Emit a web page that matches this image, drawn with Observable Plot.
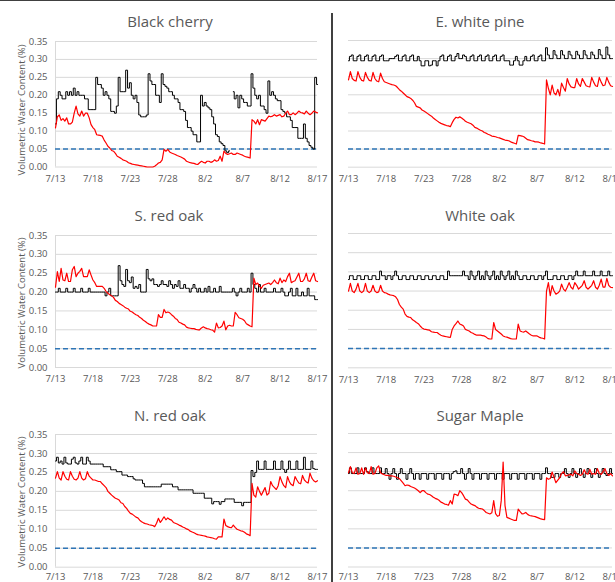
<!DOCTYPE html>
<html><head><meta charset="utf-8">
<script src="https://cdn.jsdelivr.net/npm/d3@7"></script>
<script src="https://cdn.jsdelivr.net/npm/@observablehq/plot@0.6"></script>
<style>
body{margin:0;background:#fff;}
#chart{position:relative;width:615px;height:582px;overflow:hidden;font-family:"Open Sans",sans-serif;background:#fff;}
.title{position:absolute;width:300px;text-align:center;font-size:15px;color:#595959;line-height:16px;white-space:nowrap;}
.ylab{position:absolute;width:200px;text-align:center;font-size:9.5px;color:#595959;line-height:12px;transform:rotate(-90deg);white-space:nowrap;}
.rule{position:absolute;background:#404040;}
</style></head><body><div id="chart"></div>
<script>
// ---- tick labels / categories ----
const xTickValues = [0,5,10,15,20,25,30,35];
const xTickLabels = ["7/13","7/18","7/23","7/28","8/2","8/7","8/12","8/17"];
const yTickValues = [0,0.05,0.10,0.15,0.20,0.25,0.30,0.35];
const thresholdVWC = 0.05;
const stepDays = 0.25; // readings every 6 hours from 7/13
const titles = ["Black cherry","E. white pine","S. red oak","White oak","N. red oak","Sugar Maple"];
const yLabel = "Volumetric Water Content (%)";

// ---- series values (VWC) ----
const cherryBlack = [
0.12,0.19,0.21,0.20, 0.19,0.19,0.21,0.20, 0.21,0.20,0.22,0.20, 0.21,0.20,0.20,0.20, 0.19,0.19,0.16,0.16,
0.16,0.16,0.25,0.23, 0.23,0.22,0.20,0.21, 0.20,0.19,0.155,0.155, 0.15,0.17,0.25,0.21, 0.21,0.21,0.27,0.22,
0.235,0.20,0.19,0.20, 0.18,0.145,0.14,0.14, 0.14,0.145,0.26,0.24, 0.23,0.23,0.20,0.20, 0.18,0.26,0.23,0.225,
0.22,0.21,0.21,0.20, 0.19,0.19,0.18,0.16, 0.16,0.155,0.13,0.11, 0.11,0.10,0.09,0.09, 0.07,0.07,0.20,0.17,
0.18,0.17,0.165,0.16, 0.14,0.12,0.09,0.085, 0.07,0.065,0.06,0.045, 0.04,0.045,NaN,0.21, 0.19,0.20,0.165,0.20,
0.19,0.18,0.18,0.17, 0.17,0.26,0.22,0.20, 0.19,0.20,0.17,0.17, 0.16,0.15,0.24,0.20, 0.21,0.20,0.19,0.185,
0.185,0.16,0.155,0.15, 0.14,0.14,0.13,0.11, 0.11,0.11,0.08,0.08, 0.08,0.12,0.08,0.07, 0.06,0.055,0.05,0.25,
0.23];
const cherryRed = [
0.109,0.14,0.145,0.13, 0.135,0.128,0.137,0.12, 0.12,0.125,0.15,0.17, 0.148,0.142,0.156,0.142, 0.15,0.15,0.137,0.118,
0.11,0.104,0.09,0.089, 0.088,0.086,0.075,0.067, 0.058,0.053,0.046,0.044, 0.038,0.03,0.027,0.024, 0.02,0.018,0.016,0.012,
0.01,0.008,0.007,0.006, 0.005,0.004,0.003,0.002, 0.001,0,0,0, 0,0.002,0.006,0.011, 0.013,0.02,0.049,0.044,
0.049,0.042,0.039,0.037, 0.035,0.032,0.03,0.028, 0.025,0.022,0.016,0.014, 0.012,0.011,0.01,0.008, 0.007,0.012,0.016,0.013,
0.011,0.016,0.016,0.013, 0.015,0.02,0.016,0.018, 0.03,0.016,0.044,0.038, 0.035,0.037,0.039,0.035, 0.035,0.039,0.037,0.035,
0.033,0.03,0.028,0.027, 0.025,0.132,0.128,0.12, 0.132,0.118,0.132,0.13, 0.128,0.135,0.142,0.14, 0.142,0.146,0.142,0.144,
0.146,0.14,0.142,0.15, 0.156,0.146,0.146,0.151, 0.146,0.15,0.156,0.152, 0.151,0.148,0.156,0.15, 0.146,0.15,0.156,0.153,
0.151];
const pineBlack = [
0.294,0.306,0.31,0.294, 0.294,0.306,0.31,0.294, 0.294,0.306,0.31,0.294, 0.294,0.306,0.31,0.294, 0.294,0.306,0.31,0.294,
0.294,0.294,0.30,0.30, 0.30,0.306,0.31,0.294, 0.294,0.306,0.31,0.294, 0.294,0.306,0.31,0.294, 0.294,0.306,0.294,0.28,
0.28,0.294,0.294,0.28, 0.282,0.294,0.294,0.28, 0.294,0.306,0.31,0.294, 0.294,0.306,0.31,0.294, 0.294,0.306,0.314,0.30,
0.30,0.31,0.306,0.294, 0.294,0.306,0.31,0.294, 0.294,0.306,0.31,0.294, 0.294,0.306,0.31,0.294, 0.294,0.306,0.31,0.294,
0.294,0.306,0.31,0.294, 0.294,0.294,0.282,0.282, 0.294,0.306,0.294,0.282, 0.282,0.294,0.306,0.294, 0.294,0.306,0.31,0.294,
0.294,0.306,0.31,0.294, 0.294,0.33,0.31,0.30, 0.30,0.322,0.31,0.30, 0.30,0.322,0.31,0.30, 0.30,0.32,0.31,0.30,
0.30,0.32,0.31,0.30, 0.30,0.322,0.31,0.30, 0.30,0.318,0.31,0.30, 0.30,0.325,0.31,0.30, 0.30,0.332,0.31,0.30,
0.30];
const pineRed = [
0.241,0.264,0.245,0.24, 0.238,0.264,0.248,0.24, 0.238,0.262,0.248,0.24, 0.238,0.262,0.245,0.238, 0.236,0.26,0.245,0.236,
0.234,0.232,0.23,0.228, 0.227,0.225,0.22,0.214, 0.21,0.205,0.2,0.195, 0.193,0.19,0.185,0.178, 0.168,0.166,0.164,0.158,
0.155,0.152,0.148,0.144, 0.141,0.136,0.132,0.128, 0.124,0.121,0.119,0.117, 0.115,0.114,0.112,0.123, 0.132,0.138,0.136,0.139,
0.136,0.132,0.127,0.124, 0.122,0.12,0.116,0.11, 0.108,0.105,0.102,0.1, 0.096,0.094,0.091,0.089, 0.086,0.085,0.084,0.082,
0.081,0.079,0.077,0.075, 0.074,0.073,0.07,0.068, 0.066,0.064,0.088,0.087, 0.086,0.084,0.08,0.076, 0.075,0.073,0.072,0.07,
0.07,0.069,0.067,0.066, 0.064,0.241,0.218,0.2, 0.227,0.205,0.2,0.215, 0.197,0.232,0.22,0.21, 0.245,0.23,0.222,0.22,
0.22,0.245,0.23,0.223, 0.245,0.235,0.225,0.223, 0.222,0.248,0.235,0.225, 0.223,0.248,0.235,0.225, 0.227,0.248,0.235,0.225,
0.223];
const sRedBlack = [
0.2,0.2,0.21,0.2, 0.2,0.2,0.21,0.2, 0.2,0.2,0.21,0.2, 0.2,0.2,0.21,0.2, 0.2,0.2,0.21,0.2,
0.2,0.2,0.2,0.2, 0.2,0.2,0.2,0.19, 0.2,0.21,0.19,0.19, 0.19,0.19,0.27,0.23, 0.22,0.215,0.26,0.23,
0.225,0.24,0.21,0.215, 0.21,0.22,0.2,0.2, 0.2,0.26,0.235,0.23, 0.235,0.22,0.22,0.215, 0.22,0.23,0.22,0.22,
0.215,0.23,0.22,0.21, 0.22,0.215,0.23,0.21, 0.21,0.22,0.21,0.21, 0.2,0.21,0.22,0.21, 0.2,0.21,0.2,0.2,
0.21,0.2,0.215,0.2, 0.2,0.21,0.2,0.2, 0.215,0.2,0.2,0.2, 0.2,0.2,0.2,0.21, 0.2,0.19,0.2,0.21,
0.2,0.2,0.2,0.21, 0.2,0.25,0.22,0.21, 0.2,0.22,0.2,0.2, 0.21,0.2,0.2,0.2, 0.2,0.21,0.2,0.2,
0.2,0.21,0.2,0.19, 0.19,0.2,0.21,0.19, 0.19,0.21,0.19,0.19, 0.2,0.19,0.19,0.21, 0.19,0.19,0.19,0.18,
0.18];
const sRedRed = [
0.213,0.254,0.228,0.263, 0.232,0.23,0.25,0.228, 0.228,0.259,0.268,0.241, 0.25,0.255,0.263,0.241, 0.241,0.241,0.259,0.245,
0.232,0.225,0.215,0.215, 0.215,0.215,0.21,0.202, 0.197,0.193,0.19,0.186, 0.178,0.175,0.17,0.167, 0.164,0.16,0.157,0.155,
0.149,0.147,0.143,0.14, 0.138,0.133,0.13,0.125, 0.122,0.118,0.115,0.113, 0.11,0.11,0.11,0.14, 0.133,0.133,0.154,0.145,
0.147,0.145,0.14,0.136, 0.13,0.127,0.12,0.118, 0.115,0.113,0.107,0.105, 0.104,0.103,0.103,0.101, 0.1,0.1,0.105,0.108,
0.105,0.103,0.102,0.1, 0.099,0.094,0.118,0.105, 0.106,0.11,0.123,0.1, 0.11,0.112,0.11,0.11, 0.146,0.14,0.132,0.13,
0.128,0.124,0.116,0.113, 0.11,0.108,0.237,0.22, 0.224,0.215,0.21,0.218, 0.22,0.222,0.224,0.22, 0.225,0.232,0.225,0.222,
0.237,0.225,0.232,0.228, 0.241,0.25,0.225,0.228, 0.23,0.24,0.25,0.228, 0.228,0.235,0.25,0.23, 0.228,0.24,0.25,0.23,
0.228];
const wOakBlack = [
0.23,0.24,0.24,0.23, 0.23,0.24,0.24,0.23, 0.23,0.24,0.24,0.23, 0.23,0.24,0.24,0.23, 0.23,0.252,0.24,0.24,
0.23,0.24,0.24,0.23, 0.24,0.252,0.24,0.23, 0.23,0.24,0.24,0.23, 0.23,0.24,0.24,0.23, 0.23,0.24,0.24,0.23,
0.23,0.24,0.24,0.23, 0.23,0.24,0.24,0.23, 0.23,0.24,0.24,0.23, 0.23,0.252,0.24,0.24, 0.24,0.24,0.24,0.24,
0.24,0.252,0.24,0.24, 0.23,0.252,0.24,0.23, 0.24,0.252,0.23,0.24, 0.23,0.252,0.24,0.23, 0.24,0.252,0.23,0.24,
0.23,0.252,0.24,0.23, 0.24,0.252,0.23,0.24, 0.23,0.252,0.24,0.23, 0.23,0.24,0.24,0.23, 0.23,0.24,0.24,0.23,
0.23,0.24,0.24,0.23, 0.24,0.252,0.23,0.23, 0.23,0.24,0.24,0.23, 0.23,0.24,0.24,0.23, 0.23,0.24,0.24,0.23,
0.24,0.252,0.24,0.24, 0.24,0.252,0.24,0.24, 0.24,0.24,0.252,0.24, 0.24,0.24,0.252,0.24, 0.24,0.24,0.252,0.24,
0.24];
const wOakRed = [
0.2,0.22,0.2,0.196, 0.205,0.22,0.2,0.196, 0.2,0.22,0.2,0.196, 0.2,0.215,0.2,0.196, 0.198,0.215,0.2,0.196,
0.195,0.192,0.19,0.189, 0.188,0.185,0.178,0.165, 0.158,0.153,0.14,0.134, 0.132,0.131,0.125,0.122, 0.118,0.115,0.109,0.104,
0.101,0.1,0.099,0.098, 0.094,0.093,0.092,0.092, 0.088,0.085,0.083,0.082, 0.081,0.08,0.079,0.1, 0.109,0.115,0.122,0.114,
0.112,0.109,0.1,0.098, 0.096,0.092,0.09,0.087, 0.085,0.085,0.085,0.084, 0.083,0.08,0.076,0.075, 0.075,0.118,0.1,0.096,
0.092,0.088,0.083,0.081, 0.08,0.078,0.076,0.075, 0.075,0.075,0.114,0.096, 0.094,0.093,0.096,0.092, 0.088,0.085,0.083,0.083,
0.083,0.08,0.078,0.077, 0.075,0.2,0.222,0.188, 0.214,0.2,0.192,0.195, 0.2,0.218,0.205,0.2, 0.21,0.222,0.21,0.205,
0.222,0.215,0.205,0.21, 0.215,0.227,0.21,0.205, 0.21,0.215,0.227,0.21, 0.205,0.215,0.231,0.21, 0.21,0.233,0.215,0.21,
0.209];
const nRedBlack = [
0.28,0.29,0.275,0.28, 0.272,0.29,0.275,0.272, 0.272,0.285,0.29,0.275, 0.272,0.28,0.29,0.272, 0.272,0.29,0.28,0.272,
0.272,0.272,0.272,0.272, 0.272,0.272,0.265,0.265, 0.265,0.265,0.257,0.257, 0.257,0.252,0.252,0.252, 0.243,0.243,0.243,0.239,
0.239,0.239,0.233,0.23, 0.23,0.23,0.23,0.221, 0.212,0.212,0.212,0.212, 0.212,0.212,0.212,0.212, 0.212,0.219,0.219,0.219,
0.219,0.219,0.219,0.212, 0.212,0.212,0.204,0.204, 0.204,0.204,0.204,0.204, 0.204,0.204,0.195,0.195, 0.195,0.195,0.195,0.195,
0.182,0.182,0.182,0.182, 0.167,0.173,0.173,0.173, 0.166,0.173,0.173,0.18, 0.18,0.18,0.18,0.18, 0.171,0.171,0.171,0.171,
0.162,0.171,0.171,0.171, 0.171,0.255,0.239,0.25, 0.28,0.258,0.258,0.258, 0.28,0.258,0.258,0.258, 0.258,0.28,0.258,0.258,
0.258,0.28,0.258,0.25, 0.258,0.28,0.258,0.258, 0.258,0.28,0.258,0.258, 0.258,0.29,0.258,0.258, 0.258,0.28,0.26,0.258,
0.258];
const nRedRed = [
0.235,0.252,0.235,0.23, 0.252,0.24,0.232,0.23, 0.252,0.24,0.232,0.23, 0.235,0.252,0.235,0.23, 0.233,0.252,0.24,0.235,
0.23,0.23,0.228,0.226, 0.226,0.22,0.215,0.21, 0.2,0.195,0.19,0.186, 0.182,0.18,0.177,0.17, 0.168,0.16,0.155,0.148,
0.142,0.14,0.136,0.132, 0.13,0.124,0.12,0.117, 0.115,0.114,0.112,0.111, 0.11,0.107,0.116,0.129, 0.118,0.125,0.133,0.125,
0.13,0.126,0.124,0.118, 0.116,0.114,0.111,0.109, 0.106,0.104,0.101,0.099, 0.095,0.093,0.091,0.088, 0.086,0.085,0.084,0.083,
0.082,0.08,0.079,0.078, 0.077,0.075,0.074,0.08, 0.08,0.08,0.127,0.11, 0.107,0.105,0.104,0.111, 0.105,0.1,0.098,0.096,
0.095,0.092,0.088,0.086, 0.083,0.221,0.19,0.185, 0.212,0.2,0.19,0.2, 0.21,0.19,0.195,0.226, 0.215,0.21,0.205,0.215,
0.239,0.225,0.215,0.21, 0.239,0.225,0.218,0.215, 0.239,0.23,0.222,0.22, 0.242,0.23,0.225,0.222, 0.248,0.235,0.228,0.225,
0.228];
const mapleBlack = [
0.245,0.26,0.245,0.245, 0.245,0.26,0.245,0.245, 0.245,0.26,0.25,0.245, 0.245,0.26,0.245,0.245, 0.245,0.26,0.245,0.245,
0.258,0.245,0.23,0.245, 0.258,0.245,0.23,0.245, 0.258,0.245,0.245,0.23, 0.245,0.258,0.245,0.23, 0.245,0.245,0.23,0.245,
0.245,0.245,0.23,0.245, 0.245,0.245,0.23,0.245, 0.245,0.245,0.23,0.245, 0.245,0.245,0.23,0.245, 0.25,0.252,0.245,0.245,
0.258,0.245,0.23,0.245, 0.258,0.245,0.23,0.245, 0.245,0.245,0.23,0.245, 0.245,0.245,0.23,0.245, 0.245,0.245,0.23,0.245,
0.245,0.245,0.23,0.245, 0.245,0.245,0.23,0.245, 0.245,0.245,0.23,0.245, 0.245,0.245,0.23,0.245, 0.245,0.245,0.23,0.245,
0.245,0.245,0.23,0.245, 0.245,0.26,0.245,0.245, 0.235,0.235,0.245,0.245, 0.235,0.245,0.245,0.258, 0.245,0.235,0.245,0.258,
0.245,0.235,0.245,0.258, 0.245,0.235,0.245,0.258, 0.245,0.235,0.245,0.258, 0.245,0.235,0.245,0.258, 0.245,0.24,0.245,0.258,
0.245];
const mapleRed = [
0.247,0.263,0.247,0.245, 0.26,0.243,0.245,0.26, 0.243,0.26,0.247,0.245, 0.263,0.243,0.245,0.26, 0.265,0.247,0.244,0.242,
0.24,0.24,0.239,0.239, 0.238,0.236,0.234,0.232, 0.226,0.22,0.213,0.215, 0.214,0.211,0.209,0.207, 0.204,0.2,0.195,0.2,
0.2,0.195,0.191,0.19, 0.187,0.183,0.18,0.178, 0.175,0.17,0.168,0.165, 0.164,0.162,0.174,0.165, 0.191,0.19,0.187,0.2,
0.195,0.187,0.178,0.176, 0.17,0.165,0.163,0.161, 0.157,0.154,0.153,0.152, 0.148,0.143,0.141,0.139, 0.142,0.174,0.14,0.133,
0.135,0.174,0.275,0.161, 0.13,0.128,0.126,0.124, 0.122,0.122,0.152,0.145, 0.139,0.14,0.143,0.138, 0.135,0.134,0.133,0.132,
0.13,0.128,0.126,0.125, 0.124,0.234,0.23,0.232, 0.249,0.235,0.221,0.228, 0.234,0.245,0.25,0.239, 0.24,0.242,0.243,0.239,
0.252,0.245,0.243,0.24, 0.243,0.255,0.245,0.243, 0.256,0.243,0.245,0.243, 0.258,0.245,0.243,0.25, 0.258,0.245,0.24,0.245,
0.239];

const blackSeries = [cherryBlack, pineBlack, sRedBlack, wOakBlack, nRedBlack, mapleBlack];
const redSeries = [cherryRed, pineRed, sRedRed, wOakRed, nRedRed, mapleRed];

// ---- layout (pixel positions of each plot area) ----
const layout = [
  {left:55, right:317, top:40.5, bottom:166, col:0, titleX:170, titleY:20.5, labelY:110, pad:8},
  {left:348, right:612, top:39.5, bottom:166.2, col:1, titleX:480, titleY:20.5, pad:8},
  {left:55, right:317, top:234.5, bottom:366.5, col:0, titleX:169, titleY:215, labelY:303, pad:8},
  {left:348, right:612, top:232.5, bottom:366.8, col:1, titleX:480, titleY:215, pad:8},
  {left:55, right:317, top:434, bottom:566.7, col:0, titleX:170, titleY:415, labelY:502, pad:6},
  {left:348, right:612, top:433, bottom:566.5, col:1, titleX:480, titleY:415, pad:6}
];

const chart = document.getElementById("chart");
const toRows = vals => vals.map((v, i) => ({t: i * stepDays, v}));

layout.forEach((g, k) => {
  const isLeft = g.col === 0;
  const mL = isLeft ? 55 : 12, mR = isLeft ? 5 : 3, mT = 10, mB = 22;
  const plotW = g.right - g.left, plotH = g.bottom - g.top;
  const svg = Plot.plot({
    width: mL + plotW + mR,
    height: mT + plotH + mB,
    marginLeft: mL, marginRight: mR, marginTop: mT, marginBottom: mB,
    style: {background: "transparent", overflow: "visible", fontFamily: "'Open Sans', sans-serif", fontSize: "9.5px", color: "#595959"},
    x: {domain: [0, 35], ticks: xTickValues, tickFormat: d => xTickLabels[xTickValues.indexOf(d)], tickSize: 0, tickPadding: g.pad, label: null},
    y: {domain: [0, 0.35], ticks: yTickValues, tickFormat: d3.format(".2f"), tickSize: 0, tickPadding: 8, label: null, axis: isLeft ? "left" : null},
    marks: [
      Plot.ruleY(yTickValues, {stroke: "#d9d9d9", strokeWidth: 1}),
      isLeft ? Plot.ruleX([0], {stroke: "#d9d9d9", strokeWidth: 1}) : null,
      Plot.ruleY([thresholdVWC], {stroke: "#2e75b6", strokeWidth: 1.5, strokeDasharray: "5,3"}),
      Plot.line(toRows(blackSeries[k]), {x: "t", y: "v", stroke: "#000000", strokeWidth: 1, curve: "step"}),
      Plot.line(toRows(redSeries[k]), {x: "t", y: "v", stroke: "#ff0000", strokeWidth: 1.2})
    ]
  });
  svg.style.position = "absolute";
  svg.style.left = (g.left - mL) + "px";
  svg.style.top = (g.top - mT) + "px";
  chart.appendChild(svg);

  const t = document.createElement("div");
  t.className = "title";
  t.textContent = titles[k];
  t.style.left = (g.titleX - 150) + "px";
  t.style.top = (g.titleY - 8) + "px";
  chart.appendChild(t);

  if (isLeft) {
    const yl = document.createElement("div");
    yl.className = "ylab";
    yl.textContent = yLabel;
    yl.style.left = (21.5 - 100) + "px";
    yl.style.top = (g.labelY - 6) + "px";
    chart.appendChild(yl);
  }
});

// frame lines
const topLine = document.createElement("div");
topLine.className = "rule";
Object.assign(topLine.style, {left: "0px", top: "0px", width: "615px", height: "1px"});
chart.appendChild(topLine);
const divider = document.createElement("div");
divider.className = "rule";
Object.assign(divider.style, {left: "331px", top: "13px", width: "1.5px", height: "569px"});
chart.appendChild(divider);
</script></body></html>
